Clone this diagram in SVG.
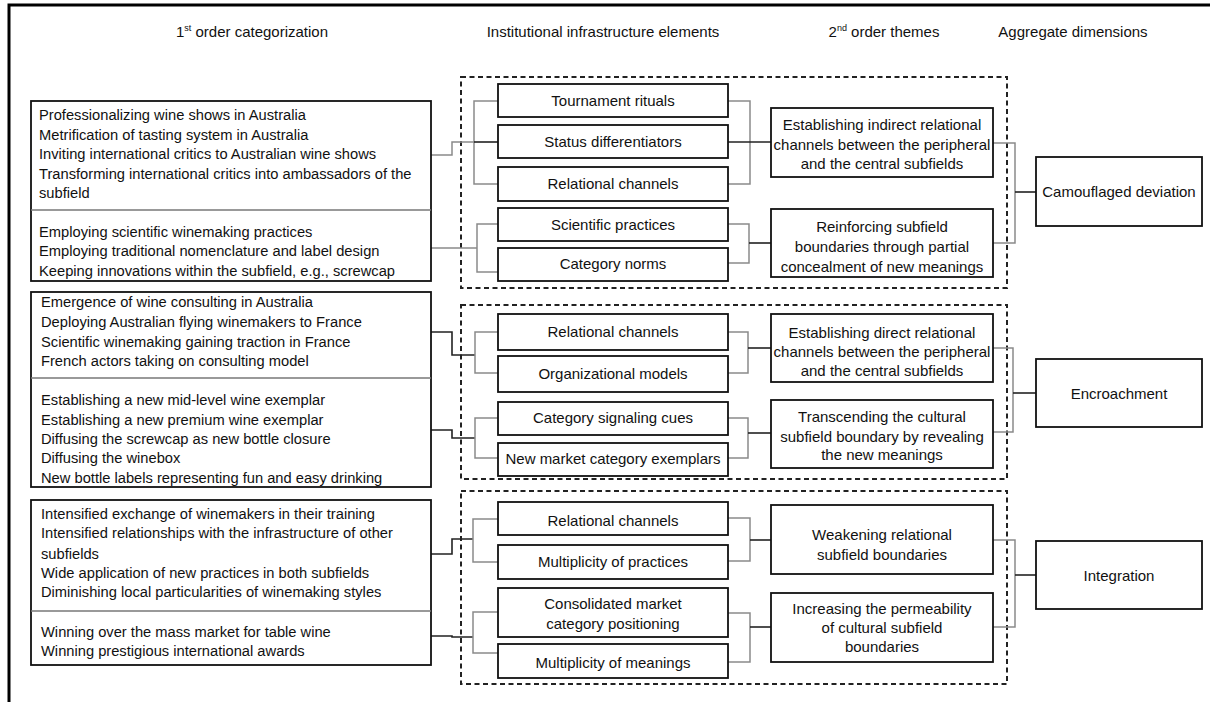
<svg xmlns="http://www.w3.org/2000/svg" width="1210" height="702" viewBox="0 0 1210 702">
<style>
text{font-family:"Liberation Sans",Arial,sans-serif;font-size:15px;fill:#111;}
.hdr{font-size:15px;text-anchor:middle;}
.lt{font-size:14.7px;dominant-baseline:central;}
.c{text-anchor:middle;dominant-baseline:central;}
.box{fill:#fff;stroke:#111;stroke-width:1.8;}
.div{stroke:#777;stroke-width:1.5;}
.dash{fill:none;stroke:#222;stroke-width:2;stroke-dasharray:5,3.5;}
.g{fill:none;stroke:#8a8a8a;stroke-width:1.5;}
.k{fill:none;stroke:#222;stroke-width:1.6;}
.frame{stroke:#000;stroke-width:3;fill:none;}
</style>
<path class="frame" d="M9,702 V5 H1210"/>
<g id="headers">
<text class="hdr" x="252" y="37">1<tspan font-size="9" dy="-6">st</tspan><tspan dy="6"> order categorization</tspan></text>
<text class="hdr" x="603" y="37">Institutional infrastructure elements</text>
<text class="hdr" x="884" y="37">2<tspan font-size="9" dy="-6">nd</tspan><tspan dy="6"> order themes</tspan></text>
<text class="hdr" x="1073" y="37">Aggregate dimensions</text>
</g>
<g id="dashed-groups">
<rect id="group-camouflaged" class="dash" x="461" y="77" width="546" height="211"/>
<rect id="group-encroachment" class="dash" x="461" y="305" width="546" height="174"/>
<rect id="group-integration" class="dash" x="461" y="491" width="546" height="193"/>
</g>
<g id="connectors">
<path class="g" d="M431,155 H452 V142 H474"/>
<path class="g" d="M498,101 H474 V184 H498"/>
<path class="k" d="M474,142 H498"/>
<path class="g" d="M431,248 H477"/>
<path class="g" d="M498,224 H477 V272 H498"/>
<path class="g" d="M728,101 H750 V184 H728"/>
<path class="k" d="M728,142 H771"/>
<path class="g" d="M728,224 H749 V263 H728"/>
<path class="k" d="M749,243 H771"/>
<path class="g" d="M993,143 H1015 V243 H993"/>
<path class="k" d="M1015,192 H1036"/>
<path class="k" d="M431,332 H452 V355 H475"/>
<path class="g" d="M498,332 H475 V373 H498"/>
<path class="k" d="M431,430 H452 V438 H475"/>
<path class="g" d="M498,418 H475 V458 H498"/>
<path class="g" d="M728,332 H748 V373 H728"/>
<path class="k" d="M748,348 H771"/>
<path class="g" d="M728,418 H748 V458 H728"/>
<path class="k" d="M748,433 H771"/>
<path class="g" d="M993,348 H1013 V432 H993"/>
<path class="k" d="M1013,393 H1036"/>
<path class="k" d="M431,554 H452 V539 H473"/>
<path class="g" d="M498,519 H473 V562 H498"/>
<path class="k" d="M431,636 H452 V637 H473"/>
<path class="g" d="M498,612 H473 V653 H498"/>
<path class="g" d="M728,518 H750 V561 H728"/>
<path class="k" d="M750,540 H771"/>
<path class="g" d="M728,613 H750 V662 H728"/>
<path class="k" d="M750,627 H771"/>
<path class="g" d="M993,540 H1015 V627 H993"/>
<path class="k" d="M1015,575 H1036"/>
</g>
<g id="first-order-camouflaged">
<rect class="box" x="31" y="101" width="400" height="180"/>
<line class="div" x1="31" y1="210" x2="431" y2="210"/>
<text class="lt" x="39" y="115">Professionalizing wine shows in Australia</text>
<text class="lt" x="39" y="135">Metrification of tasting system in Australia</text>
<text class="lt" x="39" y="154">Inviting international critics to Australian wine shows</text>
<text class="lt" x="39" y="174">Transforming international critics into ambassadors of the</text>
<text class="lt" x="39" y="193">subfield</text>
<text class="lt" x="39" y="232">Employing scientific winemaking practices</text>
<text class="lt" x="39" y="251">Employing traditional nomenclature and label design</text>
<text class="lt" x="39" y="271">Keeping innovations within the subfield, e.g., screwcap</text>
</g>
<g id="first-order-encroachment">
<rect class="box" x="31" y="292" width="400" height="195"/>
<line class="div" x1="31" y1="378" x2="431" y2="378"/>
<text class="lt" x="41" y="302">Emergence of wine consulting in Australia</text>
<text class="lt" x="41" y="322">Deploying Australian flying winemakers to France</text>
<text class="lt" x="41" y="342">Scientific winemaking gaining traction in France</text>
<text class="lt" x="41" y="361">French actors taking on consulting model</text>
<text class="lt" x="41" y="400">Establishing a new mid-level wine exemplar</text>
<text class="lt" x="41" y="420">Establishing a new premium wine exemplar</text>
<text class="lt" x="41" y="439">Diffusing the screwcap as new bottle closure</text>
<text class="lt" x="41" y="458">Diffusing the winebox</text>
<text class="lt" x="41" y="478">New bottle labels representing fun and easy drinking</text>
</g>
<g id="first-order-integration">
<rect class="box" x="31" y="500" width="400" height="165"/>
<line class="div" x1="31" y1="611" x2="431" y2="611"/>
<text class="lt" x="41" y="514">Intensified exchange of winemakers in their training</text>
<text class="lt" x="41" y="533">Intensified relationships with the infrastructure of other</text>
<text class="lt" x="41" y="554">subfields</text>
<text class="lt" x="41" y="573">Wide application of new practices in both subfields</text>
<text class="lt" x="41" y="592">Diminishing local particularities of winemaking styles</text>
<text class="lt" x="41" y="632">Winning over the mass market for table wine</text>
<text class="lt" x="41" y="651">Winning prestigious international awards</text>
</g>
<g id="el-tournament"><rect class="box" x="498" y="84" width="230" height="33"/><text class="c" x="613" y="100">Tournament rituals</text></g>
<g id="el-status"><rect class="box" x="498" y="125" width="230" height="33"/><text class="c" x="613" y="141">Status differentiators</text></g>
<g id="el-relational-1"><rect class="box" x="498" y="167" width="230" height="34"/><text class="c" x="613" y="183">Relational channels</text></g>
<g id="el-scientific"><rect class="box" x="498" y="208" width="230" height="33"/><text class="c" x="613" y="224">Scientific practices</text></g>
<g id="el-category-norms"><rect class="box" x="498" y="248" width="230" height="33"/><text class="c" x="613" y="263">Category norms</text></g>
<g id="el-relational-2"><rect class="box" x="498" y="314" width="230" height="36"/><text class="c" x="613" y="331">Relational channels</text></g>
<g id="el-organizational"><rect class="box" x="498" y="356" width="230" height="36"/><text class="c" x="613" y="373">Organizational models</text></g>
<g id="el-signaling"><rect class="box" x="498" y="402" width="230" height="33"/><text class="c" x="613" y="417">Category signaling cues</text></g>
<g id="el-exemplars"><rect class="box" x="498" y="443" width="230" height="33"/><text class="c" x="613" y="458">New market category exemplars</text></g>
<g id="el-relational-3"><rect class="box" x="498" y="502" width="230" height="33"/><text class="c" x="613" y="520">Relational channels</text></g>
<g id="el-mult-practices"><rect class="box" x="498" y="545" width="230" height="34"/><text class="c" x="613" y="561">Multiplicity of practices</text></g>
<g id="el-consolidated"><rect class="box" x="498" y="588" width="230" height="49"/><text class="c" x="613" y="603">Consolidated market</text><text class="c" x="613" y="623">category positioning</text></g>
<g id="el-mult-meanings"><rect class="box" x="498" y="644" width="230" height="34"/><text class="c" x="613" y="662">Multiplicity of meanings</text></g>
<g id="theme-indirect"><rect class="box" x="771" y="108" width="222" height="69"/>
<text class="c" x="882" y="124">Establishing indirect relational</text><text class="c" x="882" y="144">channels between the peripheral</text><text class="c" x="882" y="163">and the central subfields</text></g>
<g id="theme-reinforcing"><rect class="box" x="771" y="209" width="222" height="68"/>
<text class="c" x="882" y="226">Reinforcing subfield</text><text class="c" x="882" y="246">boundaries through partial</text><text class="c" x="882" y="266">concealment of new meanings</text></g>
<g id="theme-direct"><rect class="box" x="771" y="314" width="222" height="68"/>
<text class="c" x="882" y="332">Establishing direct relational</text><text class="c" x="882" y="351">channels between the peripheral</text><text class="c" x="882" y="370">and the central subfields</text></g>
<g id="theme-transcending"><rect class="box" x="771" y="400" width="222" height="68"/>
<text class="c" x="882" y="416">Transcending the cultural</text><text class="c" x="882" y="436">subfield boundary by revealing</text><text class="c" x="882" y="454">the new meanings</text></g>
<g id="theme-weakening"><rect class="box" x="771" y="505" width="222" height="69"/>
<text class="c" x="882" y="534">Weakening relational</text><text class="c" x="882" y="554">subfield boundaries</text></g>
<g id="theme-increasing"><rect class="box" x="771" y="593" width="222" height="69"/>
<text class="c" x="882" y="608">Increasing the permeability</text><text class="c" x="882" y="627">of cultural subfield</text><text class="c" x="882" y="646">boundaries</text></g>
<g id="agg-camouflaged"><rect class="box" x="1036" y="157" width="166" height="69"/><text class="c" x="1119" y="191">Camouflaged deviation</text></g>
<g id="agg-encroachment"><rect class="box" x="1036" y="359" width="166" height="68"/><text class="c" x="1119" y="393">Encroachment</text></g>
<g id="agg-integration"><rect class="box" x="1036" y="541" width="166" height="68"/><text class="c" x="1119" y="575">Integration</text></g>
</svg>
